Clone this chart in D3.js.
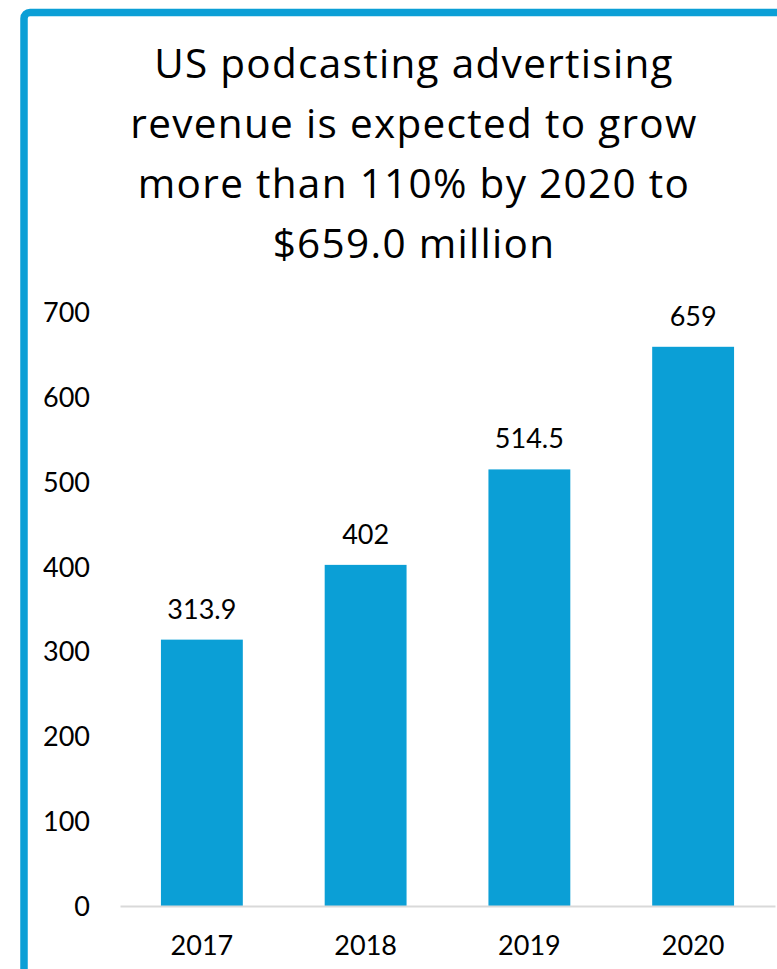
<!DOCTYPE html>
<html>
<head>
<meta charset="utf-8">
<script src="https://cdn.jsdelivr.net/npm/d3@7"></script>
<style>
  html, body { margin: 0; padding: 0; background: #ffffff; }
  svg { display: block; }
  text { font-family: Lato, "Open Sans", sans-serif; fill: #000; }
</style>
</head>
<body>
<script>
// Chart data
const years = ["2017", "2018", "2019", "2020"];
const revenue = [313.9, 402, 514.5, 659];
const valueLabels = ["313.9", "402", "514.5", "659"];
const yTicks = [0, 100, 200, 300, 400, 500, 600, 700];
const titleLines = [
  "US podcasting advertising",
  "revenue is expected to grow",
  "more than 110% by 2020 to",
  "$659.0 million"
];

const W = 777, H = 969;
const blue = "#0b9fd6";

const svg = d3.select("body").append("svg")
  .attr("width", W).attr("height", H);

// Frame around the chart (runs off the right and bottom edges)
svg.append("rect")
  .attr("x", 24).attr("y", 12.5)
  .attr("width", 820).attr("height", 1020)
  .attr("rx", 6)
  .attr("fill", "none")
  .attr("stroke", blue)
  .attr("stroke-width", 7.5);

// Title
svg.append("g").selectAll("text")
  .data(titleLines)
  .join("text")
  .attr("x", 414)
  .attr("y", (d, i) => 78 + i * 60)
  .attr("text-anchor", "middle")
  .style("font-family", "'Open Sans', sans-serif")
  .style("font-size", "40.5px")
  .style("letter-spacing", "1.3px")
  .text(d => d);

// Scales
const x = d3.scaleBand().domain(years).range([120, 775])
  .paddingInner(0.5).paddingOuter(0.25);
const y = d3.scaleLinear().domain([0, 700]).range([906, 312]);

// Y axis (labels only)
const yAxis = svg.append("g")
  .attr("transform", "translate(90,0)")
  .call(d3.axisLeft(y).tickValues(yTicks).tickSize(0).tickPadding(0));
yAxis.select(".domain").remove();
yAxis.selectAll("text")
  .style("font-size", "27px")
  .attr("font-family", null)
  .attr("fill", "#000")
  .attr("dy", "0.35em");

// Bars
svg.append("g").selectAll("rect")
  .data(revenue)
  .join("rect")
  .attr("x", (d, i) => x(years[i]))
  .attr("y", d => y(d))
  .attr("width", x.bandwidth())
  .attr("height", d => y(0) - y(d))
  .attr("fill", blue);

// Value labels
svg.append("g").selectAll("text")
  .data(revenue)
  .join("text")
  .attr("x", (d, i) => x(years[i]) + x.bandwidth() / 2)
  .attr("y", d => y(d) - 21)
  .attr("text-anchor", "middle")
  .style("font-size", "27px")
  .text((d, i) => valueLabels[i]);

// X axis
const xAxis = svg.append("g")
  .attr("transform", `translate(0,${y(0)})`)
  .call(d3.axisBottom(x).tickSize(0).tickPadding(0).tickSizeOuter(0));
xAxis.select(".domain").attr("stroke", "#d9d9d9").attr("stroke-width", 2);
xAxis.selectAll("text")
  .style("font-size", "27px")
  .attr("font-family", null)
  .attr("fill", "#000")
  .attr("dy", null)
  .attr("y", 49);
</script>
</body>
</html>
